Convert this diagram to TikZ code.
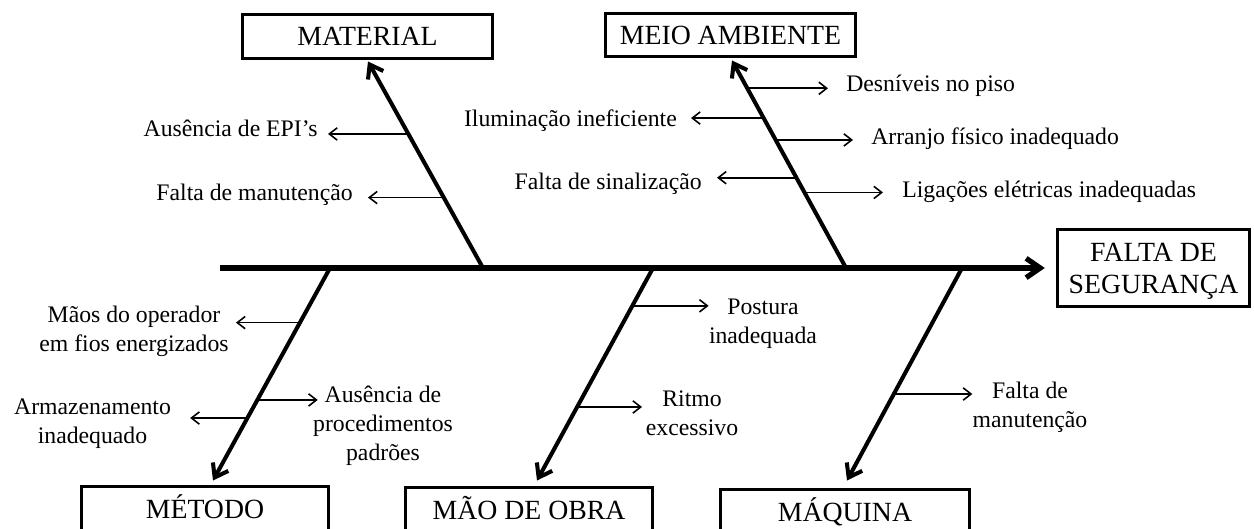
\documentclass[tikz,border=0pt]{standalone}
\usepackage{fontspec}
\setmainfont{Liberation Serif}
\usetikzlibrary{arrows.meta,calc}
\begin{document}
\begin{tikzpicture}[x=0.02cm,y=-0.02cm,
  box/.style={draw, line width=1.8pt, inner sep=0pt, font=\fontsize{15.8}{18}\selectfont, text height=10.35pt, text depth=0pt},
  effbox/.style={draw, line width=1.8pt, inner sep=0pt, font=\fontsize{15.8}{18.1}\selectfont, align=center, text depth=0pt},
  lab/.style={inner sep=0pt, font=\fontsize{13.5}{16.4}\selectfont, align=center},
  spine/.style={line width=3pt, -{Straight Barb[length=8pt,width=11pt]}},
  bone/.style={line width=2.3pt, -{Straight Barb[length=7pt,width=10pt]}},
  sub/.style={line width=0.9pt, -{Straight Barb[length=4.5pt,width=7pt]}},
]
\useasboundingbox (0,0) rectangle (1254,528);

% category boxes
\node[box, minimum width=142.3pt, minimum height=25.5pt] (material) at (367.5,36.5) {MATERIAL};
\node[box, minimum width=142.3pt, minimum height=24.9pt] (meio) at (730.5,35) {MEIO AMBIENTE};
\node[box, minimum width=140.6pt, minimum height=26.1pt] (metodo) at (205,509.5) {MÉTODO};
\node[box, minimum width=140.6pt, minimum height=26.1pt] (mao) at (529,510) {MÃO DE OBRA};
\node[box, minimum width=141.7pt, minimum height=26.1pt] (maquina) at (845,512.5) {MÁQUINA};
\node[effbox, minimum width=109.4pt, minimum height=43.7pt] (falta) at (1153.5,268) {FALTA DE\\SEGURANÇA};

% spine
\coordinate (sp) at (220,268);
\coordinate (spt) at ($(falta.west)+(-11,0)$);
\draw[spine] (sp) -- (spt);

% bone bases and tips
\coordinate (mb) at (483,268);
\coordinate (eb) at (846,268);
\coordinate (meb) at (330,268);
\coordinate (mob) at (653,268);
\coordinate (qb) at (962,268);
\coordinate (mt) at ($(material.south)+(0.5,1)$);
\coordinate (et) at ($(meio.south)+(1.5,2)$);
\coordinate (met) at ($(metodo.north)+(8,-4.5)$);
\coordinate (mot) at ($(mao.north)+(8,-5)$);
\coordinate (qt) at ($(maquina.north)+(2,-7.5)$);

\draw[bone] (mb) -- (mt);
\draw[bone] (eb) -- (et);
\draw[bone] (meb) -- (met);
\draw[bone] (mob) -- (mot);
\draw[bone] (qb) -- (qt);

% MATERIAL causes
\node[lab, anchor=base east, inner xsep=5.7pt] (epi) at (328,136) {Ausência de EPI’s};
\node[lab, anchor=base east, inner xsep=8.5pt] (mman) at (368,200) {Falta de manutenção};
\coordinate (a1) at ($(mb)!0.649!(mt)$);
\coordinate (a2) at ($(mb)!0.341!(mt)$);
\draw[sub] (a1) -- (a1 -| epi.east);
\draw[sub] (a2) -- (a2 -| mman.east);

% MEIO AMBIENTE causes
\node[lab, anchor=base west, inner xsep=10.2pt] (desn) at (828,91) {Desníveis no piso};
\node[lab, anchor=base east, inner xsep=7.9pt] (ilum) at (691,126) {Iluminação ineficiente};
\node[lab, anchor=base west, inner xsep=10.2pt] (arr) at (853,144) {Arranjo físico inadequado};
\node[lab, anchor=base east, inner xsep=8.5pt] (sinal) at (717,189) {Falta de sinalização};
\node[lab, anchor=base west, inner xsep=10.8pt] (lig) at (883,197) {Ligações elétricas inadequadas};
\coordinate (b1) at ($(eb)!0.866!(et)$);
\coordinate (b2) at ($(eb)!0.7225!(et)$);
\coordinate (b3) at ($(eb)!0.617!(et)$);
\coordinate (b4) at ($(eb)!0.435!(et)$);
\coordinate (b5) at ($(eb)!0.364!(et)$);
\draw[sub] (b1) -- (b1 -| desn.west);
\draw[sub] (b2) -- (b2 -| ilum.east);
\draw[sub] (b3) -- (b3 -| arr.west);
\draw[sub] (b4) -- (b4 -| sinal.east);
\draw[sub] (b5) -- (b5 -| lig.west);

% METODO causes (anchor base = last line baseline)
\node[lab, anchor=base, inner xsep=4pt] (maos) at (134,351) {Mãos do operador\\em fios energizados};
\node[lab, anchor=base] (aus) at (383,460) {Ausência de\\procedimentos\\padrões};
\node[lab, anchor=base, inner xsep=10.8pt] (arm) at (92.5,443) {Armazenamento\\inadequado};
\coordinate (c1) at ($(meb)!0.257!(met)$);
\coordinate (c2) at ($(meb)!0.621!(met)$);
\coordinate (c3) at ($(meb)!0.706!(met)$);
\draw[sub] (c1) -- (c1 -| maos.east);
\draw[sub, shorten >=-2.8pt] (c2) -- (c2 -| aus.west);
\draw[sub] (c3) -- (c3 -| arm.east);

% MAO DE OBRA causes
\node[lab, anchor=base] (post) at (763,343) {Postura\\inadequada};
\node[lab, anchor=base, inner xsep=2pt] (ritmo) at (692,435) {Ritmo\\excessivo};
\coordinate (d1) at ($(mob)!0.178!(mot)$);
\coordinate (d2) at ($(mob)!0.654!(mot)$);
\draw[sub] (d1) -- (d1 -| post.west);
\draw[sub] (d2) -- (d2 -| ritmo.west);

% MAQUINA causes
\node[lab, anchor=base] (qman) at (1030,427) {Falta de\\manutenção};
\coordinate (e1) at ($(qb)!0.593!(qt)$);
\draw[sub] (e1) -- (e1 -| qman.west);
\end{tikzpicture}
\end{document}
